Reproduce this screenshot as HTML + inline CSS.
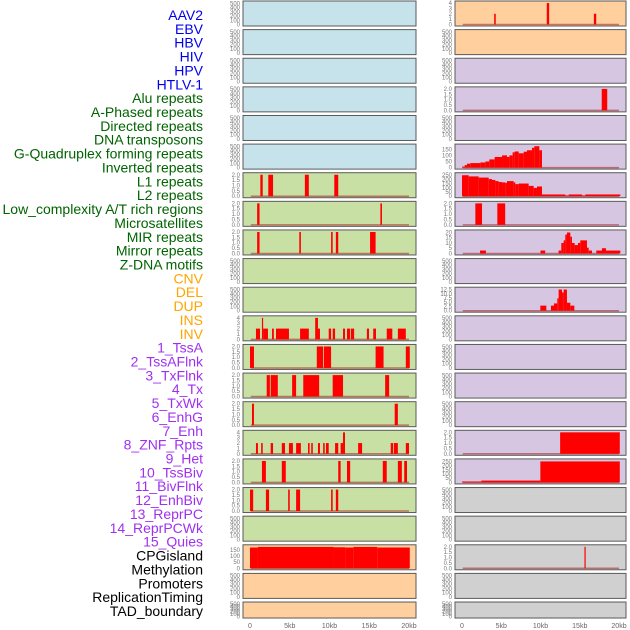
<!DOCTYPE html>
<html><head><meta charset="utf-8"><style>
body{margin:0;background:#fff;width:630px;height:630px;overflow:hidden;font-family:"Liberation Sans",sans-serif}
svg{position:absolute;left:0;top:0}
</style></head><body>
<svg id="c" width="630" height="630"></svg>
<script>
const trackLabels=["AAV2","EBV","HBV","HIV","HPV","HTLV-1","Alu repeats","A-Phased repeats","Directed repeats","DNA transposons","G-Quadruplex forming repeats","Inverted repeats","L1 repeats","L2 repeats","Low_complexity A/T rich regions","Microsatellites","MIR repeats","Mirror repeats","Z-DNA motifs","CNV","DEL","DUP","INS","INV","1_TssA","2_TssAFlnk","3_TxFlnk","4_Tx","5_TxWk","6_EnhG","7_Enh","8_ZNF_Rpts","9_Het","10_TssBiv","11_BivFlnk","12_EnhBiv","13_ReprPC","14_ReprPCWk","15_Quies","CPGisland","Methylation","Promoters","ReplicationTiming","TAD_boundary"];
const labelGroups=[6,13,5,15,5];
const xTicks=[0,5,10,15,20];
const xTickLabels=["0","5kb","10kb","15kb","20kb"];
// left column series [startKb,endKb,value]
const L7=[[1.3,1.6,2],[2.3,2.9,2],[6.9,7.4,2],[10.6,11.1,2]];
const L8=[[0.9,1.2,2],[16.4,16.6,2]];
const L9=[[0.9,1.2,2],[6.2,6.4,2],[10.2,10.4,2],[10.8,11.1,2],[15.1,15.8,2]];
const L12=[[0.75,1.26,2],[1.5,1.65,4],[1.65,2.26,2],[2.77,3.0,2],[3.27,4.9,2],[6.3,7.4,2],[8.2,8.55,4],[8.55,8.8,2],[9.9,10.2,2],[10.4,10.7,2],[11.7,11.95,2],[12.2,12.6,2],[12.7,13.1,2],[14.7,14.97,2],[15.5,15.85,2],[17.2,17.9,2],[18.6,19.6,2]];
const L13=[[0,0.5,2],[8.4,9.2,2],[9.3,10.2,2],[15.8,16.8,2],[19.6,20.1,2]];
const L14=[[2.1,2.5,2],[2.6,3.5,2],[5.3,5.8,2],[6.7,8.7,2],[10.4,11.7,2],[17.0,17.5,2]];
const L15=[[0.25,0.5,2],[18.2,18.6,2]];
const L16=[[0.75,1.0,2],[1.4,1.6,2],[2.6,2.9,2],[4.0,4.4,2],[4.9,5.4,2],[5.8,6.4,2],[7.3,7.5,2],[7.7,7.9,2],[8.55,8.8,2],[9.2,9.4,2],[9.56,9.9,2],[10.7,11.1,2],[11.4,11.7,2],[11.7,11.95,4],[13.6,14.1,2],[17.7,18.0,2],[18.1,18.6,2],[19.6,20.0,2]];
const L17=[[1.5,2.0,2],[4.0,4.5,2],[11.1,11.4,2],[12.2,12.6,2],[16.7,17.2,2],[18.6,19.1,2],[19.4,19.75,2]];
const L18=[[0,0.4,2],[2.0,2.4,2],[4.8,5.0,2],[5.8,6.3,2],[10.2,10.4,2],[10.8,11.1,2]];
const L20=[[0,1,170],[1,10.5,175],[10.5,12,172],[12,13,170],[13,16,175],[16,20.1,170]];
// right column series
const R1=[[4.1,4.3,2],[10.8,11.1,4],[16.8,17.1,2]];
const R4=[[17.8,18.5,2]];
const R6=[[0,0.34,8],[0.34,0.64,20],[0.64,1.06,32],[1.06,2.33,37],[2.33,2.97,42],[2.97,3.48,50],[3.48,4.16,67],[4.16,5.1,87],[5.1,5.73,100],[5.73,6.03,87],[6.03,6.45,100],[6.45,6.71,125],[6.71,7.22,132],[7.22,7.86,117],[7.86,8.28,130],[8.28,8.92,142],[8.92,9.21,162],[9.21,9.85,175],[9.85,10.19,142]];
const R7=[[0,0.85,250],[0.85,2.12,236],[2.12,3.4,222],[3.4,3.82,204],[3.82,4.25,194],[4.25,4.67,180],[4.67,5.1,169],[5.1,5.52,165],[5.52,5.73,158],[5.73,6.58,180],[6.58,6.79,165],[6.79,7.22,144],[7.22,8.49,151],[8.49,9.13,123],[9.13,9.55,99],[9.55,10.19,116],[10.19,13.16,21],[13.16,13.59,10],[13.59,15.29,21],[15.29,15.71,10],[15.71,20.17,21]];
const R8=[[1.7,2.55,2],[4.5,5.5,2]];
const R9=[[2.3,3.05,2.8],[10,10.6,2.8],[12.3,12.65,2.8],[12.65,12.95,10],[12.95,13.16,12.5],[13.16,13.37,18],[13.37,13.8,20],[13.8,14.01,16],[14.01,14.35,10],[14.35,14.77,8],[14.77,15.07,10],[15.07,15.92,12.5],[15.92,16.14,5.5],[16.14,16.56,2.8],[17.11,17.83,2.8],[17.83,18.34,5],[18.34,20.17,2.8]];
const R11=[[9.98,10.74,3],[11.33,11.72,3],[11.72,12.14,4.3],[12.14,12.31,7.3],[12.31,12.74,12.5],[12.74,12.95,10.8],[12.95,13.37,12.5],[13.37,13.8,4.7],[13.8,14.31,3]];
const R16=[[12.5,20.1,2]];
const R17=[[0,2.46,11],[2.46,9.98,22],[9.98,20.1,250]];
const R20=[[15.6,15.75,2]];
const T2=["0.0","0.5","1.0","1.5","2.0"],T2v=[0,0.5,1,1.5,2];
const T4=["0","1","2","3","4"],T4v=[0,1,2,3,4];
const TE=["0","100","200","300","400","500"],TEv=[0,100,200,300,400,500];
const B="#c6e3ec",G="#c8e0a3",O="#ffd09e",P="#d6c6e2",Y="#d0d0d0";
const leftPanels=[[B],[B],[B],[B],[B],[B],[G,L7,2.05,T2,T2v],[G,L8,2.05,T2,T2v],[G,L9,2.05,T2,T2v],[G],[G],[G,L12,4.1,T4,T4v],[G,L13,2.05,T2,T2v],[G,L14,2.05,T2,T2v],[G,L15,2.05,T2,T2v],[G,L16,4.1,T4,T4v],[G,L17,2.05,T2,T2v],[G,L18,2.05,T2,T2v],[G],[O,L20,180,["0","50","100","150"],[0,50,100,150]],[O],[O]];
const rightPanels=[[O,R1,4.1,T4,T4v],[O],[P],[P,R4,2.05,T2,T2v],[P],[P,R6,180,["0","50","100","150"],[0,50,100,150]],[P,R7,262,["0","50","100","150","200","250"],[0,50,100,150,200,250]],[P,R8,2.05,T2,T2v],[P,R9,21,["0","5","10","15","20"],[0,5,10,15,20]],[P],[P,R11,13,["0.0","2.5","5.0","7.5","10.0","12.5"],[0,2.5,5,7.5,10,12.5]],[P],[P],[P],[P],[P,R16,2.05,T2,T2v],[P,R17,262,["0","50","100","150","200","250"],[0,50,100,150,200,250]],[Y],[Y],[Y,R20,2.05,T2,T2v],[Y],[Y]];

const NS="http://www.w3.org/2000/svg";
const svg=document.getElementById('c');
function mk(t,a,p){const e=document.createElementNS(NS,t);for(const k in a)e.setAttribute(k,a[k]);(p||svg).appendChild(e);return e;}
const colors=["#0000ee","#006400","#ffa500","#a030f0","#000000"];
let k=0;
labelGroups.forEach((n,g)=>{for(let i=0;i<n;i++,k++){
  const t=mk('text',{x:203,y:20+k*13.86,'text-anchor':'end','font-size':'14',fill:colors[g]});
  t.textContent=trackLabels[k];
  
  
}});
function drawCol(panels,px,pw,x0,x1){
  const xs=v=>x0+(x1-x0)*v/20;
  panels.forEach((p,i)=>{
    const top=1+i*28.62, h=(i==21)?16:25;
    const g=mk('g',{});
    
    
    mk('rect',{x:px,y:top,width:pw,height:h,fill:p[0],stroke:'#5a5a5a','stroke-width':1},g);
    let ymax=p[2]||520, tl=p[3]||TE, tv=p[4]||TEv;
    const ys=v=>top+h-1.5-(h-3)*v/ymax;
    tv.forEach((v,j)=>{const t=mk('text',{x:px-3,y:ys(v)+2,'text-anchor':'end','font-size':'6',fill:'#777'},g);t.textContent=tl[j];
      });
    if(p[1]){
      mk('line',{x1:xs(0.1),x2:xs(20),y1:ys(0),y2:ys(0),stroke:'rgba(170,30,30,0.55)','stroke-width':1.5},g);
      p[1].forEach(b=>{const r=mk('rect',{x:xs(b[0]),y:ys(b[2]),width:Math.max(1.2,xs(b[1])-xs(b[0])),height:ys(0)-ys(b[2]),fill:'#ff0000'},g);
        });
    }
  });
  xTicks.forEach((v,j)=>{const t=mk('text',{x:xs(v),y:628,'text-anchor':'middle','font-size':'7',fill:'#666'});t.textContent=xTickLabels[j];
    });
}
drawCol(leftPanels,243,173,250,409);
drawCol(rightPanels,455,171,462,619);
</script>
</body></html>
